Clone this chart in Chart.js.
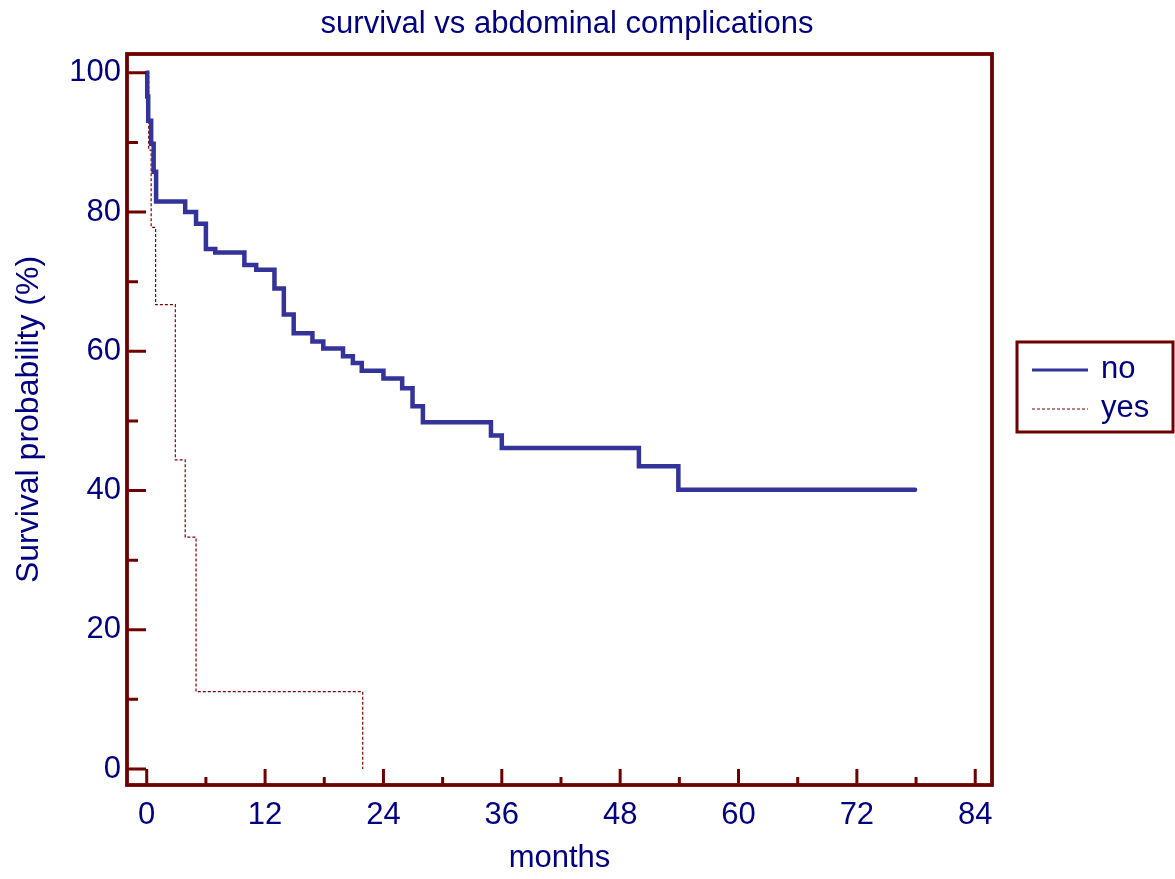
<!DOCTYPE html>
<html>
<head>
<meta charset="utf-8">
<script src="https://cdn.jsdelivr.net/npm/chart.js@4.4.1/dist/chart.umd.min.js"></script>
<style>
  html, body { margin: 0; padding: 0; background: #ffffff; }
  #wrap { width: 1175px; height: 879px; position: relative; }
</style>
</head>
<body>
<div id="wrap"><canvas id="c" width="1175" height="879"></canvas></div>
<script>
// Texts
const chartTitle = 'survival vs abdominal complications';
const xAxisTitle = 'months';
const yAxisTitle = 'Survival probability (%)';
const seriesNames = ['no', 'yes'];

// Tick values
const monthTicks = [0, 12, 24, 36, 48, 60, 72, 84];
const monthMinorTicks = [6, 18, 30, 42, 54, 66, 78];
const survivalTicks = [0, 20, 40, 60, 80, 100];
const survivalMinorTicks = [10, 30, 50, 70, 90];

// Kaplan-Meier steps: survival (%) after each event time (months)
const noMonths = [0, 0.05, 0.15, 0.45, 0.7, 0.95, 3.9, 5.0, 6.0, 6.95, 9.9, 11.1, 12.95, 13.9, 14.9, 16.8, 17.9, 19.9, 20.9, 21.8, 24.0, 25.9, 26.95, 28.0, 34.9, 36.0, 49.9, 53.9, 77.9];
const noSurvival = [100, 96.6, 93.1, 89.8, 85.8, 81.5, 80.0, 78.3, 74.7, 74.2, 72.4, 71.7, 69.0, 65.3, 62.6, 61.4, 60.4, 59.3, 58.3, 57.2, 56.1, 54.7, 52.1, 49.8, 47.9, 46.1, 43.5, 40.1, 40.1];
const yesMonths = [0, 0.2, 0.45, 0.9, 2.9, 3.9, 5.0, 21.9];
const yesSurvival = [100, 88.9, 77.8, 66.7, 44.4, 33.3, 11.1, 0];

const TEXT = '#000080';
const FRAME = '#6e0000';
const FONT = 'Liberation Sans, Arial, sans-serif';

const toPoints = (xs, ys) => xs.map((x, i) => ({ x: x, y: ys[i] }));

// Frame, inward tick marks, title and boxed legend
const decorations = {
  id: 'decorations',
  afterDatasetsDraw(chart) {
    const { ctx, chartArea: a, scales } = chart;
    const xs = scales.x, ys = scales.y;
    ctx.save();
    ctx.strokeStyle = FRAME;
    ctx.lineCap = 'butt';
    ctx.lineWidth = 3;
    ctx.beginPath();
    survivalTicks.forEach(v => { const y = ys.getPixelForValue(v); ctx.moveTo(a.left, y); ctx.lineTo(a.left + 19, y); });
    survivalMinorTicks.forEach(v => { const y = ys.getPixelForValue(v); ctx.moveTo(a.left, y); ctx.lineTo(a.left + 11, y); });
    monthTicks.forEach(v => { const x = xs.getPixelForValue(v); ctx.moveTo(x, a.bottom); ctx.lineTo(x, a.bottom - 16); });
    monthMinorTicks.forEach(v => { const x = xs.getPixelForValue(v); ctx.moveTo(x, a.bottom); ctx.lineTo(x, a.bottom - 8); });
    ctx.stroke();

    ctx.lineWidth = 3.8;
    ctx.lineJoin = 'miter';
    ctx.strokeRect(a.left, a.top, a.right - a.left, a.bottom - a.top);

    // title
    ctx.fillStyle = TEXT;
    ctx.font = '31px ' + FONT;
    ctx.textAlign = 'center';
    ctx.textBaseline = 'alphabetic';
    ctx.fillText(chartTitle, 567, 33);

    // legend
    ctx.lineWidth = 3;
    ctx.strokeStyle = FRAME;
    ctx.strokeRect(1017, 342, 156, 90);
    const rows = [370, 409];
    chart.data.datasets.forEach((ds, i) => {
      const y = rows[i];
      ctx.save();
      ctx.strokeStyle = ds.borderColor;
      ctx.lineWidth = i === 0 ? 3 : 1.2;
      ctx.setLineDash(ds.borderDash || []);
      ctx.beginPath();
      ctx.moveTo(1032, y);
      ctx.lineTo(1088, y);
      ctx.stroke();
      ctx.restore();
      ctx.fillStyle = TEXT;
      ctx.font = '31px ' + FONT;
      ctx.textAlign = 'left';
      ctx.textBaseline = 'middle';
      ctx.fillText(ds.label, 1101, y - 1);
    });
    ctx.restore();
  }
};

new Chart(document.getElementById('c'), {
  type: 'line',
  data: {
    datasets: [
      {
        label: seriesNames[0],
        data: toPoints(noMonths, noSurvival),
        borderColor: '#333399',
        borderWidth: 4.5,
        stepped: true,
        pointRadius: 0,
        fill: false,
        borderCapStyle: 'round',
        borderJoinStyle: 'miter'
      },
      {
        label: seriesNames[1],
        data: toPoints(yesMonths, yesSurvival),
        borderColor: '#800000',
        borderWidth: 1.2,
        borderDash: [3, 2],
        stepped: true,
        pointRadius: 0,
        fill: false
      }
    ]
  },
  options: {
    responsive: false,
    animation: false,
    devicePixelRatio: 1,
    layout: { padding: { left: 0, right: 183, top: 54, bottom: 0 } },
    plugins: { legend: { display: false }, title: { display: false }, tooltip: { enabled: false } },
    scales: {
      x: {
        type: 'linear',
        min: -2,
        max: 85.7,
        afterBuildTicks: s => { s.ticks = monthTicks.map(v => ({ value: v })); },
        afterFit: s => { s.height = 94; },
        grid: { display: false, drawTicks: false },
        border: { display: false },
        ticks: { color: TEXT, font: { family: FONT, size: 31 }, padding: 12, maxRotation: 0, autoSkip: false },
        title: { display: true, text: xAxisTitle, color: TEXT, font: { family: FONT, size: 31 }, padding: { top: 0, bottom: 2 } }
      },
      y: {
        type: 'linear',
        min: -2.3,
        max: 102.7,
        afterBuildTicks: s => { s.ticks = survivalTicks.map(v => ({ value: v })); },
        afterFit: s => { s.width = 127; },
        grid: { display: false, drawTicks: false },
        border: { display: false },
        ticks: { color: TEXT, font: { family: FONT, size: 31 }, padding: 6 },
        title: { display: true, text: yAxisTitle, color: TEXT, font: { family: FONT, size: 32 }, padding: { top: 10, bottom: 0 } }
      }
    }
  },
  plugins: [decorations]
});
</script>
</body>
</html>
